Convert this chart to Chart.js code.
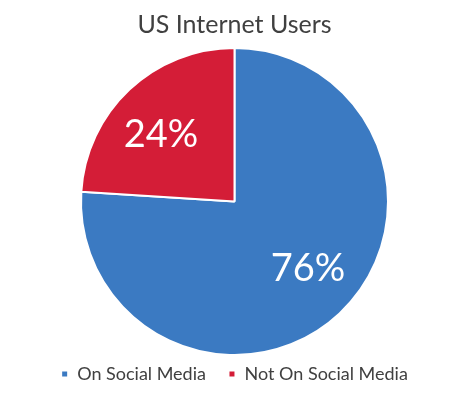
<!DOCTYPE html>
<html>
<head>
<meta charset="utf-8">
<script src="https://cdn.jsdelivr.net/npm/chart.js@4/dist/chart.umd.min.js"></script>
<style>
  html, body { margin: 0; padding: 0; background: #fff; }
  #wrap { width: 473px; height: 393px; }
</style>
</head>
<body>
<div id="wrap"><canvas id="pie"></canvas></div>
<script>
const categories = ['On Social Media', 'Not On Social Media'];
const shares = [76, 24];
const sliceColors = ['#3B7AC2', '#D41D37'];

// percent labels drawn inside each slice
const sliceLabels = {
  id: 'sliceLabels',
  afterDatasetsDraw(chart) {
    const ctx = chart.ctx;
    const meta = chart.getDatasetMeta(0);
    ctx.save();
    ctx.fillStyle = '#ffffff';
    ctx.font = '38px Lato, "Open Sans", sans-serif';
    ctx.textAlign = 'center';
    ctx.textBaseline = 'middle';
    meta.data.forEach((arc, i) => {
      const mid = (arc.startAngle + arc.endAngle) / 2;
      const r = arc.outerRadius;
      ctx.fillText(shares[i] + '%', arc.x + Math.cos(mid) * r * 0.7, arc.y + Math.sin(mid) * r * 0.6);
    });
    ctx.restore();
  }
};

new Chart(document.getElementById('pie'), {
  type: 'pie',
  data: {
    labels: categories,
    datasets: [{
      data: shares,
      backgroundColor: sliceColors,
      borderColor: '#ffffff',
      borderWidth: 2
    }]
  },
  options: {
    responsive: true,
    maintainAspectRatio: false,
    animation: false,
    layout: { padding: { left: 0, right: 4, bottom: 0 } },
    plugins: {
      title: {
        display: true,
        text: 'US Internet Users',
        color: '#404040',
        font: { family: 'Lato, "Open Sans", sans-serif', size: 25, weight: 'normal' },
        padding: { top: 10, bottom: 7 }
      },
      legend: {
        position: 'bottom',
        labels: {
          color: '#404040',
          font: { family: 'Lato, "Open Sans", sans-serif', size: 18 },
          boxWidth: 7,
          boxHeight: 7,
          padding: 9,
          // wider gap between the two entries
          generateLabels(chart) {
            const items = Chart.overrides.pie.plugins.legend.labels.generateLabels(chart);
            items.forEach((it, i) => { if (i < items.length - 1) it.text += '\u2003'; });
            return items;
          }
        }
      },
      tooltip: { enabled: false }
    }
  },
  plugins: [sliceLabels]
});
</script>
</body>
</html>
